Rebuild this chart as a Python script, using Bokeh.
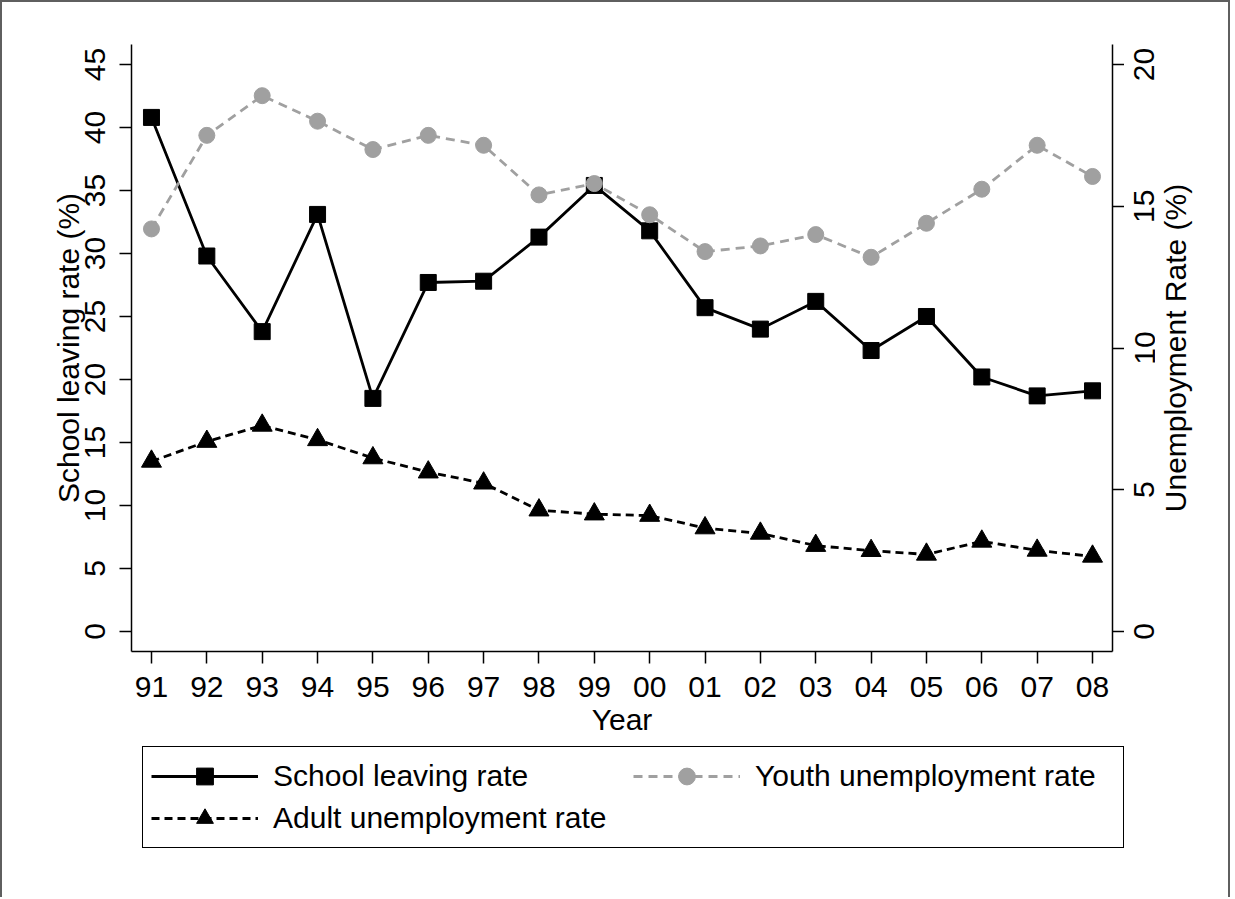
from bokeh.plotting import figure
from bokeh.layouts import row, column
from bokeh.models import Range1d, LinearAxis, FixedTicker, Legend, LegendItem
from bokeh.embed import file_html
from bokeh.resources import INLINE

# ---- data ----
years = ["91", "92", "93", "94", "95", "96", "97", "98", "99",
         "00", "01", "02", "03", "04", "05", "06", "07", "08"]
school_leaving = [40.8, 29.8, 23.8, 33.1, 18.5, 27.7, 27.8, 31.3, 35.4,
                  31.8, 25.7, 24.0, 26.2, 22.3, 25.0, 20.2, 18.7, 19.1]
youth_unemp = [14.2, 17.5, 18.9, 18.0, 17.0, 17.5, 17.15, 15.4, 15.8,
               14.7, 13.4, 13.6, 14.0, 13.2, 14.4, 15.6, 17.15, 16.05]
adult_unemp = [6.0, 6.7, 7.27, 6.76, 6.12, 5.62, 5.23, 4.28, 4.14,
               4.09, 3.65, 3.46, 3.03, 2.85, 2.72, 3.18, 2.86, 2.65]
left_ticks = [0, 5, 10, 15, 20, 25, 30, 35, 40, 45]
right_ticks = [0, 5, 10, 15, 20]
labels = ["School leaving rate", "Youth unemployment rate", "Adult unemployment rate"]

xpos = list(range(len(years)))
FONT = "Liberation Sans"
GRAY = "#a0a0a0"
FS = "30px"
B = 2                      # width of the outer graph-region border line
TOP, FH, BOT = 44 - B, 607, 92
LEFT = 131 - B
LW = 2.8


def left_range():
    return Range1d(-1.586, 46.586)


def right_range():
    return Range1d(-0.705, 20.705)


p = figure(frame_width=981, frame_height=FH,
           min_border_left=LEFT, min_border_right=12,
           min_border_top=TOP, min_border_bottom=BOT,
           x_range=Range1d(-0.361, len(years) - 1 + 0.361),
           y_range=left_range(),
           output_backend="svg", toolbar_location=None,
           background_fill_color="white", border_fill_color="white")
p.extra_y_ranges = {"right": right_range()}
p.grid.visible = False
p.outline_line_color = None


def style_axis(ax, ticks):
    ax.ticker = FixedTicker(ticks=ticks)
    ax.minor_tick_line_color = None
    ax.major_tick_in = 0
    ax.major_tick_out = 12
    ax.major_tick_line_width = 1.5
    ax.major_tick_line_color = "black"
    ax.axis_line_width = 1.5
    ax.axis_line_color = "black"
    ax.major_label_text_font = FONT
    ax.major_label_text_font_size = FS
    ax.major_label_text_color = "black"
    ax.axis_label_text_font = FONT
    ax.axis_label_text_font_size = FS
    ax.axis_label_text_font_style = "normal"
    ax.axis_label_text_color = "black"


# bottom axis
xa = p.xaxis[0]
style_axis(xa, xpos)
xa.major_label_overrides = {i: y for i, y in enumerate(years)}
xa.axis_label = "Year"
xa.major_label_standoff = 13
xa.axis_label_standoff = 3

# left axis
ya = p.yaxis[0]
style_axis(ya, left_ticks)
ya.axis_label = "School leaving rate (%)"
ya.major_label_orientation = "vertical"
ya.major_label_standoff = 14
ya.axis_label_standoff = -2

# right axis (line + ticks; its labels are shown by the strips beside it)
ra = LinearAxis(y_range_name="right")
style_axis(ra, right_ticks)
ra.major_label_overrides = {t: "" for t in right_ticks}
ra.major_label_standoff = 0
p.add_layout(ra, "right")


def draw_series(f, visible=True):
    rs = []
    rs.append(f.line(xpos, school_leaving, line_color="black", line_width=LW,
                     visible=visible))
    rs.append(f.scatter(xpos, school_leaving, marker="square", size=16,
                        fill_color="black", line_color="black", visible=visible))
    rs.append(f.line(xpos, youth_unemp, line_color=GRAY, line_width=LW,
                     line_dash="9 6", y_range_name="right", visible=visible))
    rs.append(f.scatter(xpos, youth_unemp, marker="circle", size=16,
                        fill_color=GRAY, line_color=GRAY, y_range_name="right",
                        visible=visible))
    rs.append(f.line(xpos, adult_unemp, line_color="black", line_width=LW,
                     line_dash="8 5", y_range_name="right", visible=visible))
    rs.append(f.scatter(xpos, adult_unemp, marker="triangle", size=20,
                        fill_color="black", line_color="black",
                        y_range_name="right", visible=visible))
    return rs


draw_series(p)


# strips with the right-hand tick labels and axis title (read bottom to top)
def strip(border_left, fwidth):
    f = figure(frame_width=fwidth, frame_height=FH,
               min_border_left=border_left, min_border_right=0,
               min_border_top=TOP, min_border_bottom=BOT,
               x_range=Range1d(0, 1), y_range=right_range(),
               x_axis_location=None, output_backend="svg",
               toolbar_location=None, background_fill_color="white",
               border_fill_color="white")
    f.grid.visible = False
    f.outline_line_color = None
    return f


q = strip(30, 1)
qa = q.yaxis[0]
style_axis(qa, right_ticks)
qa.axis_line_color = None
qa.major_tick_out = 0
qa.major_label_orientation = "vertical"
qa.major_label_standoff = 0

r = strip(30, 37)
rax = r.yaxis[0]
style_axis(rax, [])
rax.axis_line_color = None
rax.major_tick_out = 0
rax.major_label_standoff = 0
rax.axis_label = "Unemployment Rate (%)"
rax.axis_label_standoff = 0

# legend panel below the chart (legend keys come from hidden copies of the series)
lf = figure(frame_width=1000, frame_height=154,
            min_border_left=LEFT, min_border_right=0,
            min_border_top=0, min_border_bottom=0,
            x_range=Range1d(0, 1), y_range=left_range(),
            x_axis_location=None, y_axis_location=None,
            output_backend="svg", toolbar_location=None,
            background_fill_color="white", border_fill_color="white")
lf.extra_y_ranges = {"right": right_range()}
lf.grid.visible = False
lf.outline_line_color = None
k1, m1, k2, m2, k3, m3 = draw_series(lf, visible=False)

legend = Legend(items=[
    LegendItem(label=labels[0], renderers=[k1, m1]),
    LegendItem(label=labels[1], renderers=[k2, m2]),
    LegendItem(label=labels[2], renderers=[k3, m3]),
], location=(11, 49), orientation="horizontal", ncols=2)
legend.border_line_color = "black"
legend.border_line_alpha = 1
legend.border_line_width = 1.5
legend.background_fill_color = "white"
legend.background_fill_alpha = 1
legend.padding = 8
legend.spacing = 0
legend.margin = 0
legend.label_standoff = 15
legend.glyph_width = 107
legend.glyph_height = 42
legend.label_height = 42
legend.label_width = 360
legend.label_text_font = FONT
legend.label_text_font_size = FS
legend.label_text_color = "black"
legend.label_text_baseline = "middle"
lf.add_layout(legend, "center")

layout = column(row(p, q, r, spacing=0), lf, spacing=0)
layout.styles = {"border-left": f"{B}px solid #5f5f5f",
                 "border-top": f"{B}px solid #5f5f5f",
                 "border-right": f"{B}px solid #5f5f5f"}
open("out.html", "w").write(file_html(layout, INLINE))
